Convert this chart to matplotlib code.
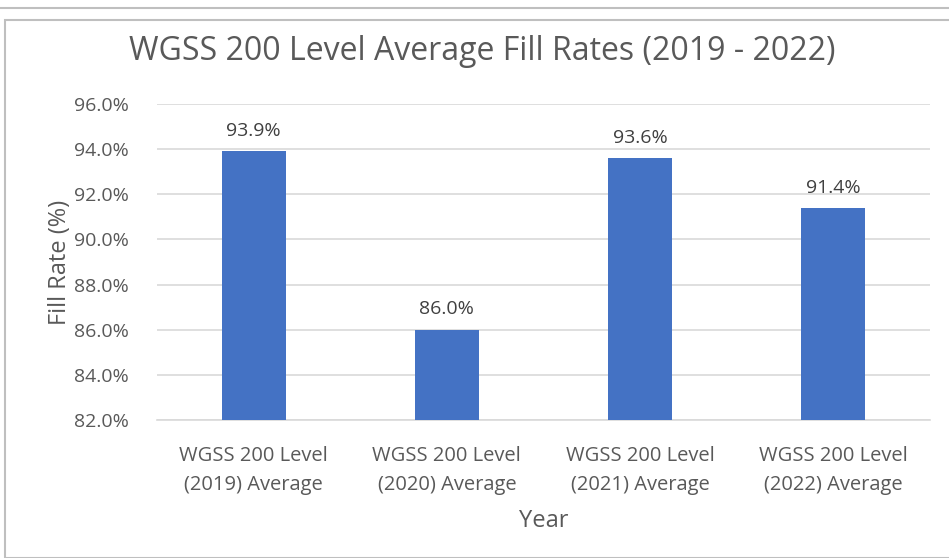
import matplotlib.pyplot as plt
from matplotlib.patches import Rectangle

# data
categories = ["WGSS 200 Level\n(2019) Average", "WGSS 200 Level\n(2020) Average",
              "WGSS 200 Level\n(2021) Average", "WGSS 200 Level\n(2022) Average"]
fill_rates = [93.9, 86.0, 93.6, 91.4]
yticks = [82, 84, 86, 88, 90, 92, 94, 96]

txt = "#595959"
plt.rcParams['font.family'] = ['Open Sans', 'DejaVu Sans']

fig = plt.figure(figsize=(9.49, 5.58), dpi=100)
ax = fig.add_axes([157/949, 1 - 420/558, (930-157)/949, (420-104)/558])

x = range(len(categories))
bars = ax.bar(x, fill_rates, width=0.33, color="#4472C4", zorder=3)
for b, v in zip(bars, fill_rates):
    ax.text(b.get_x() + b.get_width()/2, v + 0.5, f"{v:.1f}%", ha="center", va="bottom",
            fontsize=14, color="#404040")

ax.set_xlim(-0.5, len(categories) - 0.5)
ax.set_ylim(82, 96)
ax.set_yticks(yticks)
ax.set_yticklabels([f"{t:.1f}%" for t in yticks], fontsize=14, color=txt)
ax.set_xticks(list(x))
ax.set_xticklabels(categories, fontsize=14.5, color=txt, linespacing=1.55)
ax.tick_params(length=0)
ax.tick_params(axis="y", pad=20)
ax.tick_params(axis="x", pad=19)
ax.grid(axis="y", color="#D9D9D9", linewidth=1.2, zorder=0)
for s in ["top", "right", "left"]:
    ax.spines[s].set_visible(False)
ax.spines["bottom"].set_color("#D9D9D9")
ax.spines["bottom"].set_linewidth(1.2)

ax.set_xlabel("Year", fontsize=17, color=txt, labelpad=10)
ax.set_ylabel("Fill Rate (%)", fontsize=17, color=txt, labelpad=2)
fig.text(482/949, 1 - 52/558, "WGSS 200 Level Average Fill Rates (2019 - 2022)",
         ha="center", va="center", fontsize=23, color=txt)

# chart border
fig.patches.append(Rectangle((5/949, 0), 1.2, 1 - 20/558, transform=fig.transFigure,
                             fill=False, edgecolor="#BFBFBF", linewidth=1.5))
fig.patches.append(Rectangle((0, 1 - 8/558), 1, 0, transform=fig.transFigure,
                             fill=False, edgecolor="#BFBFBF", linewidth=1.5))

fig.savefig("out.png", dpi=100)
